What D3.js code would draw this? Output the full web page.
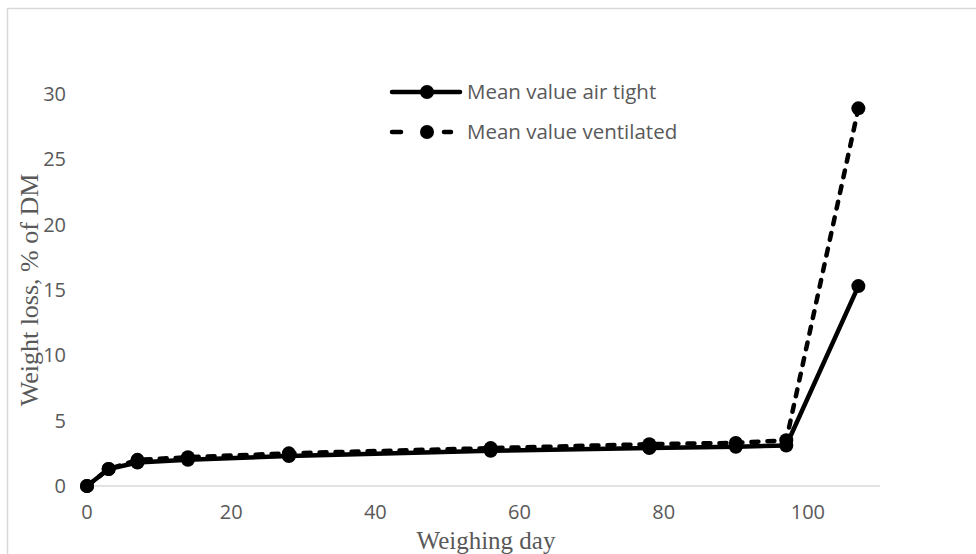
<!DOCTYPE html>
<html>
<head>
<meta charset="utf-8">
<script src="https://cdn.jsdelivr.net/npm/d3@7"></script>
<style>
  body { margin: 0; background: #fff; }
  svg { display: block; }
</style>
</head>
<body>
<div id="chart"></div>
<script>
// weighing days and the two series (% of DM)
var days = [0, 3, 7, 14, 28, 56, 78, 90, 97, 107];
var airTight = [0, 1.3, 1.8, 2.0, 2.3, 2.7, 2.9, 3.0, 3.1, 15.3];
var ventilated = [0, 1.3, 2.0, 2.2, 2.5, 2.9, 3.2, 3.3, 3.5, 28.9];
var xTicks = [0, 20, 40, 60, 80, 100];
var yTicks = [0, 5, 10, 15, 20, 25, 30];
var seriesNames = ["Mean value air tight", "Mean value ventilated"];

const width = 976, height = 554;

var svg = d3.select("#chart").append("svg")
    .attr("width", width)
    .attr("height", height);

// chart border
svg.append("rect")
    .attr("x", 7.5).attr("y", 8.5)
    .attr("width", 975).attr("height", 560)
    .attr("fill", "none")
    .attr("stroke", "#d9d9d9")
    .attr("stroke-width", 1.5);

// scales
var x = d3.scaleLinear().domain([0, 110]).range([87, 880]);
var y = d3.scaleLinear().domain([0, 30]).range([486, 94]);

// x axis line
svg.append("line")
    .attr("x1", x(0)).attr("x2", x(110))
    .attr("y1", y(0)).attr("y2", y(0))
    .attr("stroke", "#d9d9d9")
    .attr("stroke-width", 1.5);

// tick labels
var labelFont = "'Open Sans', Lato, sans-serif";
svg.selectAll(".xt")
    .data(xTicks)
    .enter().append("text")
    .attr("x", function(d){ return x(d); })
    .attr("y", 519)
    .attr("text-anchor", "middle")
    .attr("font-family", labelFont)
    .attr("font-size", 20)
    .attr("fill", "#595959")
    .text(function(d){ return d; });

svg.selectAll(".yt")
    .data(yTicks)
    .enter().append("text")
    .attr("x", 66)
    .attr("y", function(d){ return y(d) + 7; })
    .attr("text-anchor", "end")
    .attr("font-family", labelFont)
    .attr("font-size", 20)
    .attr("fill", "#595959")
    .text(function(d){ return d; });

// axis titles
var titleFont = "'Liberation Serif', 'Times New Roman', serif";
svg.append("text")
    .attr("x", 486).attr("y", 549)
    .attr("text-anchor", "middle")
    .attr("font-family", titleFont)
    .attr("font-size", 25)
    .attr("fill", "#595959")
    .text("Weighing day");

svg.append("text")
    .attr("transform", "translate(38,290) rotate(-90)")
    .attr("text-anchor", "middle")
    .attr("font-family", titleFont)
    .attr("font-size", 26)
    .attr("fill", "#595959")
    .text("Weight loss, % of DM");

// lines
var line = d3.line()
    .x(function(d){ return x(d[0]); })
    .y(function(d){ return y(d[1]); });

var series = [
    { name: seriesNames[0], values: d3.zip(days, airTight), dash: null },
    { name: seriesNames[1], values: d3.zip(days, ventilated), dash: "7,9" }
];

series.forEach(function(s){
    svg.append("path")
        .attr("d", line(s.values))
        .attr("fill", "none")
        .attr("stroke", "#000")
        .attr("stroke-width", 4.5)
        .attr("stroke-linecap", s.dash ? "round" : "butt")
        .attr("stroke-linejoin", "round")
        .attr("stroke-dasharray", s.dash);
    svg.selectAll(null)
        .data(s.values)
        .enter().append("circle")
        .attr("cx", function(d){ return x(d[0]); })
        .attr("cy", function(d){ return y(d[1]); })
        .attr("r", 7)
        .attr("fill", "#000");
});

// legend
var legend = svg.append("g");
series.forEach(function(s, i){
    var ly = 92 + i * 40;
    if (s.dash) {
        [[392, 401], [444, 451]].forEach(function(seg){
            legend.append("line")
                .attr("x1", seg[0]).attr("x2", seg[1])
                .attr("y1", ly).attr("y2", ly)
                .attr("stroke", "#000")
                .attr("stroke-width", 4.5)
                .attr("stroke-linecap", "round");
        });
    } else {
        legend.append("line")
            .attr("x1", 392).attr("x2", 460)
            .attr("y1", ly).attr("y2", ly)
            .attr("stroke", "#000")
            .attr("stroke-width", 4.5)
            .attr("stroke-linecap", "round");
    }
    legend.append("circle")
        .attr("cx", 427).attr("cy", ly)
        .attr("r", 7)
        .attr("fill", "#000");
    legend.append("text")
        .attr("x", 467).attr("y", ly + 7)
        .attr("font-family", labelFont)
        .attr("font-size", 20.5)
        .attr("fill", "#595959")
        .text(s.name);
});
</script>
</body>
</html>
